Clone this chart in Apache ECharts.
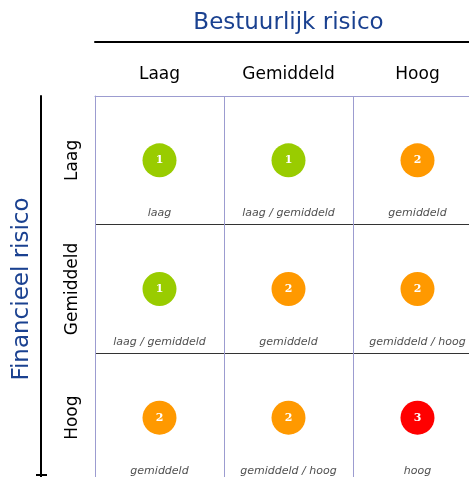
<!DOCTYPE html>
<html>
<head>
<meta charset="utf-8">
<script src="https://cdn.jsdelivr.net/npm/echarts@6/dist/echarts.min.js"></script>
<style>
  html, body { margin: 0; padding: 0; background: #fff; }
  #chart { width: 469px; height: 477px; }
</style>
</head>
<body>
<div id="chart"></div>
<script>
// axis categories
const colLabels = ['Laag', 'Gemiddeld', 'Hoog']   // bestuurlijk risico
const rowLabels = ['Laag', 'Gemiddeld', 'Hoog']   // financieel risico

// score per cell, rows = financieel, cols = bestuurlijk
const scores = [
  [1, 1, 2],
  [1, 2, 2],
  [2, 2, 3]
]
const cellLabels = [
  ['laag', 'laag / gemiddeld', 'gemiddeld'],
  ['laag / gemiddeld', 'gemiddeld', 'gemiddeld / hoog'],
  ['gemiddeld', 'gemiddeld / hoog', 'hoog']
]
const scoreColors = { 1: '#99cc00', 2: '#ff9900', 3: '#ff0000' }

const cells = []
scores.forEach((row, r) => {
  row.forEach((s, c) => {
    cells.push([c, r, s, cellLabels[r][c]])
  })
})

const FONT = 'DejaVu Sans'
const TITLE_BLUE = '#1a4190'
const GRID_PURPLE = '#9c9cd0'

const chart = echarts.init(document.getElementById('chart'))
chart.setOption({
  animation: false,
  textStyle: { fontFamily: FONT },
  // grid runs past the right and bottom edge, like the cropped original
  grid: { left: 95, top: 96, width: 387, height: 386, outerBoundsMode: 'none' },
  xAxis: [
    {
      type: 'category',
      data: colLabels,
      position: 'top',
      axisLine: { show: true, lineStyle: { color: GRID_PURPLE, width: 1 } },
      axisTick: { show: false },
      axisLabel: { fontSize: 17, color: '#000', margin: 13, fontFamily: FONT },
      splitLine: { show: true, interval: 0, lineStyle: { color: GRID_PURPLE, width: 1 } }
    },
    {
      type: 'category',
      data: colLabels,
      position: 'top',
      offset: 54,
      axisLine: { show: true, lineStyle: { color: '#000', width: 2 } },
      axisTick: { show: false },
      axisLabel: { show: false },
      splitLine: { show: false },
      name: 'Bestuurlijk risico',
      nameLocation: 'middle',
      nameGap: 7,
      nameTextStyle: { fontSize: 23, color: TITLE_BLUE, fontFamily: FONT }
    }
  ],
  yAxis: [
    {
      type: 'category',
      data: rowLabels,
      inverse: true,
      axisLine: { show: true, lineStyle: { color: GRID_PURPLE, width: 1 } },
      axisTick: { show: false },
      axisLabel: { fontSize: 17, color: '#000', margin: 14, rotate: 90, fontFamily: FONT },
      splitLine: {
        show: true,
        interval: 0,
        lineStyle: { color: [GRID_PURPLE, '#333', '#333', '#333'], width: 1 }
      }
    },
    {
      type: 'category',
      data: rowLabels,
      inverse: true,
      position: 'left',
      offset: 54,
      axisLine: { show: true, lineStyle: { color: '#000', width: 2 } },
      axisTick: { show: false },
      axisLabel: { show: false },
      splitLine: { show: false },
      name: 'Financieel risico',
      nameLocation: 'middle',
      nameRotate: 90,
      nameGap: 7,
      nameTextStyle: { fontSize: 23, color: TITLE_BLUE, fontFamily: FONT }
    }
  ],
  // small end cap on the left axis line
  graphic: [{
    type: 'line',
    shape: { x1: 36, y1: 475, x2: 47, y2: 475 },
    style: { stroke: '#000', lineWidth: 2 }
  }],
  series: [
    {
      type: 'scatter',
      data: cells,
      symbolSize: 34,
      itemStyle: {
        opacity: 1,
        color: p => scoreColors[p.data[2]]
      },
      label: {
        show: true,
        position: 'inside',
        formatter: p => p.data[2],
        color: '#fff',
        fontWeight: 'bold',
        fontSize: 11,
        fontFamily: 'DejaVu Serif'
      },
      z: 3
    },
    {
      type: 'scatter',
      data: cells,
      symbolSize: 1,
      itemStyle: { color: 'rgba(0,0,0,0)' },
      label: {
        show: true,
        position: 'inside',
        offset: [0, 53],
        formatter: p => p.data[3],
        color: '#222',
        fontStyle: 'italic',
        fontSize: 11,
        fontFamily: FONT
      },
      z: 3
    }
  ]
})
</script>
</body>
</html>
